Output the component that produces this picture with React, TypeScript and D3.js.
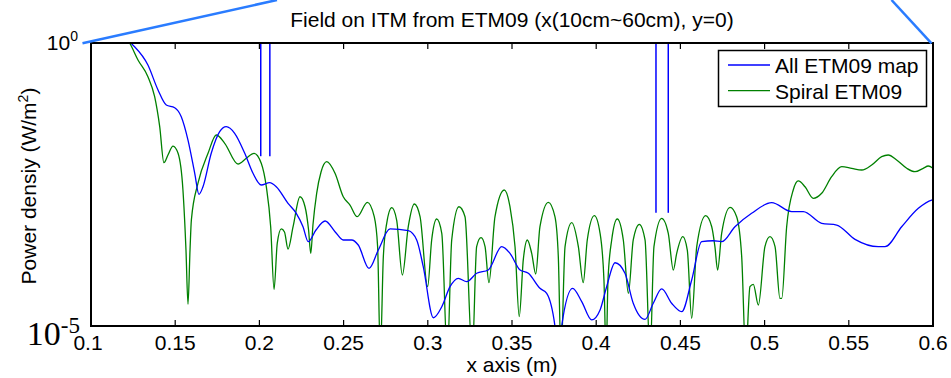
import React from "react";
import * as d3 from "d3";

const W = 951;
const H = 378;
const M = { left: 91, right: 18, top: 43, bottom: 52 };

const titleText = "Field on ITM from ETM09 (x(10cm~60cm), y=0)";
const xLabelText = "x axis (m)";
const seriesNames = ["All ETM09 map", "Spiral ETM09"];
const seriesColors = ["#0000ff", "#008000"];

const xTicks = [0.1, 0.15, 0.2, 0.25, 0.3, 0.35, 0.4, 0.45, 0.5, 0.55, 0.6];
const xTickLabels = ["0.1", "0.15", "0.2", "0.25", "0.3", "0.35", "0.4", "0.45", "0.5", "0.55", "0.6"];

// All ETM09 map (blue)
const blueX = [
  0.120, 0.1239, 0.1338, 0.1398, 0.1447, 0.1497, 0.1536, 0.1576, 0.1616, 0.1641, 0.1665,
  0.1714, 0.1764, 0.1803, 0.1853, 0.1913, 0.1962, 0.2011, 0.2061, 0.2100, 0.2170,
  0.2219, 0.2259, 0.2290, 0.2336, 0.2390, 0.2449, 0.2498, 0.2548, 0.2587, 0.2651,
  0.2706, 0.2776, 0.2884, 0.2934, 0.2973, 0.3033, 0.3083, 0.3132, 0.3181, 0.3231,
  0.3290, 0.3359, 0.3439, 0.3488, 0.3548, 0.3597, 0.3666, 0.3706, 0.3755, 0.3775,
  0.3795, 0.3860, 0.3914, 0.3973, 0.4023, 0.4062, 0.4112, 0.4171, 0.4220, 0.4290,
  0.4339, 0.4389, 0.4448, 0.4508, 0.4567, 0.4626, 0.4695, 0.4745, 0.4824, 0.4923,
  0.5042, 0.5161, 0.5230, 0.5339, 0.5428, 0.5537, 0.5675, 0.5715, 0.5814, 0.5913,
  0.5992, 0.6,
];
const blueY = [
  1.3, 0.99, 0.408, 0.148, 0.0803, 0.0719, 0.0499, 0.0193, 0.00499, 0.00212, 0.00289,
  0.01125, 0.0271, 0.0332, 0.0254, 0.01125, 0.00499, 0.0031, 0.0034, 0.00289, 0.00147,
  0.00098, 0.000568, 0.000309, 0.000497, 0.000716, 0.000464, 0.000331, 0.000331, 0.00027, 0.000104,
  0.00022, 0.000518, 0.000483, 0.000331, 0.000112, 1.40e-5, 2.19e-5, 4.95e-5, 6.96e-5, 6.07e-5,
  8.53e-5, 9.75e-5, 0.000252, 0.000192, 9.75e-5, 8.53e-5, 4.63e-5, 3.78e-5, 1.0e-5, 3e-6,
  1.0e-5, 4.63e-5, 2.69e-5, 1.28e-5, 1.92e-5, 4.95e-5, 0.000131, 8.53e-5, 2.52e-5, 1.31e-5,
  2.52e-5, 4.51e-5, 2.52e-5, 1.79e-5, 6.5e-5, 0.000309, 0.000321, 0.000309, 0.000568, 0.00098,
  0.00151, 0.00105, 0.00105, 0.000652, 0.000608, 0.00034, 0.000252, 0.000252, 0.000568, 0.0012,
  0.00168, 0.0017,
];

// Spiral ETM09 (green)
const greenX = [
  0.118, 0.1230, 0.1279, 0.1338, 0.1378, 0.1408, 0.1433, 0.1457, 0.1487, 0.1517, 0.1546,
  0.1564, 0.1576, 0.1588, 0.1596, 0.1635, 0.1695, 0.1744, 0.1794, 0.1873, 0.1922,
  0.1968, 0.2011, 0.2041, 0.2067, 0.2087, 0.2106, 0.2130, 0.2149, 0.2170, 0.2200,
  0.2241, 0.2271, 0.2292, 0.2305, 0.2318, 0.2340, 0.2366, 0.2400, 0.2449, 0.2498,
  0.2538, 0.2581, 0.2641, 0.2682, 0.2702, 0.2718, 0.2736, 0.2756, 0.2786, 0.2815,
  0.2849, 0.2884, 0.2920, 0.2954, 0.2999, 0.3023, 0.3053, 0.3083, 0.3116, 0.3142,
  0.3185, 0.3221, 0.3264, 0.3290, 0.3316, 0.3340, 0.3363, 0.3399, 0.3454, 0.3488,
  0.3518, 0.3543, 0.3567, 0.3591, 0.3617, 0.3641, 0.3666, 0.3716, 0.3755, 0.3775,
  0.3791, 0.3815, 0.3855, 0.3894, 0.3923, 0.3947, 0.3989, 0.4023, 0.4046, 0.4059,
  0.4070, 0.4092, 0.4125, 0.4161, 0.4191, 0.4220, 0.4256, 0.4290, 0.4320, 0.4343,
  0.4389, 0.4428, 0.4458, 0.4478, 0.4514, 0.4541, 0.4567, 0.4597, 0.4650, 0.4686,
  0.4705, 0.4721, 0.4745, 0.4795, 0.4834, 0.4864, 0.4888, 0.4913, 0.4933, 0.4963,
  0.5002, 0.5032, 0.5062, 0.5091, 0.5102, 0.5131, 0.5170, 0.5200, 0.5240, 0.5289,
  0.5339, 0.5398, 0.5458, 0.5517, 0.5577, 0.5636, 0.5695, 0.5734, 0.5784, 0.5844,
  0.5893, 0.5942, 0.5972, 0.6,
];
const greenY = [
  1.5, 0.99, 0.501, 0.254, 0.1125, 0.0332, 0.00767, 0.0105, 0.0151, 0.01125, 0.00253,
  0.00022, 2.42e-5, 0.00022, 0.000746, 0.00332, 0.01125, 0.0237, 0.0169, 0.00728, 0.00918,
  0.01125, 0.0075, 0.00289, 0.000568, 4.45e-5, 0.000289, 0.000518, 0.000458, 0.000229, 0.000568,
  0.00192, 0.00128, 0.000497, 0.000192, 0.000608, 0.00221, 0.00526, 0.008, 0.00499, 0.00192,
  0.00137, 0.000853, 0.00153, 0.000853, 0.000252, 3e-6, 0.000168, 0.000652, 0.00123, 0.000746,
  7.96e-5, 0.000568, 0.00143, 0.000853, 4.95e-5, 0.000331, 0.000777, 0.000434, 3e-6, 0.000331,
  0.00128, 0.000853, 3e-6, 0.000252, 0.000363, 0.000252, 5.82e-5, 0.000853, 0.00253, 0.00128,
  0.000252, 1.46e-5, 0.000147, 0.000331, 0.000192, 8.3e-5, 0.000568, 0.00153, 0.000853, 0.000168,
  3e-6, 0.000252, 0.000668, 0.000252, 5.82e-5, 0.000331, 0.000889, 0.000434, 6.5e-5, 3e-6,
  6.5e-5, 0.000331, 0.000777, 0.000331, 3.78e-5, 0.000331, 0.000626, 0.000331, 3e-6, 0.000252,
  0.0008, 0.000434, 9.75e-5, 0.000192, 0.000378, 0.00022, 1.37e-5, 0.000252, 0.000889, 0.000568,
  0.000252, 9.75e-5, 0.000434, 0.00125, 0.000853, 0.000168, 3e-6, 4.95e-5, 5.46e-5, 2.35e-5,
  0.000252, 0.000378, 0.000252, 3.08e-5, 3.08e-5, 0.000568, 0.00253, 0.00365, 0.00289, 0.0018,
  0.00221, 0.00434, 0.00652, 0.00611, 0.0057, 0.007, 0.0098, 0.0105, 0.00857, 0.00611,
  0.00532, 0.00611, 0.00671, 0.00611,
];

// Vertical blue marker segments (x position, lower end value)
const markerX = [0.2008, 0.2062, 0.4355, 0.4428];
const markerBottom = [1e-2, 1e-2, 1e-3, 1e-3];
const markerTop = 1;

export default function App() {
  const iw = W - M.left - M.right;
  const ih = H - M.top - M.bottom;
  const x = d3.scaleLinear().domain([0.1, 0.6]).range([M.left, M.left + iw]);
  const y = d3.scaleLog().domain([1e-5, 1]).range([M.top + ih, M.top]);

  const line = d3
    .line<[number, number]>()
    .x((d) => x(d[0]))
    .y((d) => y(d[1]))
    .curve(d3.curveMonotoneX);

  const blueData: [number, number][] = blueX.map((v, i) => [v, blueY[i]]);
  const greenData: [number, number][] = greenX.map((v, i) => [v, greenY[i]]);

  const sans = "'Liberation Sans', Arial, Helvetica, sans-serif";
  const x0 = M.left;
  const x1 = M.left + iw;
  const y0 = M.top;
  const y1 = M.top + ih;

  return (
    <div style={{ position: "fixed", left: 0, top: 0, width: W, height: H, background: "#fff" }}>
      <svg width={W} height={H} style={{ display: "block" }}>
        <defs>
          <clipPath id="plotClip">
            <rect x={x0} y={y0} width={iw} height={ih} />
          </clipPath>
        </defs>
        <rect x={0} y={0} width={W} height={H} fill="#fff" />

        <text x={(x0 + x1) / 2} y={27} textAnchor="middle" fontFamily={sans} fontSize={21} fill="#000">
          {titleText}
        </text>

        <g clipPath="url(#plotClip)">
          {markerX.map((mx, i) => (
            <line key={i} x1={x(mx)} x2={x(mx)} y1={y(markerTop)} y2={y(markerBottom[i])} stroke={seriesColors[0]} strokeWidth={1.5} />
          ))}
          <path d={line(greenData) || ""} fill="none" stroke={seriesColors[1]} strokeWidth={1.3} />
          <path d={line(blueData) || ""} fill="none" stroke={seriesColors[0]} strokeWidth={1.3} />
        </g>

        {/* axes box */}
        <rect x={x0} y={y0} width={iw} height={ih} fill="none" stroke="#000" strokeWidth={2} />
        {xTicks.map((t, i) => (
          <g key={i}>
            <line x1={x(t)} x2={x(t)} y1={y1} y2={y1 - 6} stroke="#000" strokeWidth={1.2} />
            <line x1={x(t)} x2={x(t)} y1={y0} y2={y0 + 6} stroke="#000" strokeWidth={1.2} />
            <text x={x(t) - (i === 0 ? 3 : 0)} y={y1 + 24} textAnchor="middle" fontFamily={sans} fontSize={21} fill="#000">
              {xTickLabels[i]}
            </text>
          </g>
        ))}

        {/* y tick labels */}
        <text x={78} y={50} textAnchor="end" fontFamily={sans} fontSize={21} fill="#000">
          10
          <tspan dy={-9} fontSize={14}>0</tspan>
        </text>
        <text x={80} y={345} textAnchor="end" fontFamily="'Liberation Serif', 'Times New Roman', serif" fontSize={34} fill="#000">
          10
          <tspan dy={-12} fontSize={23}>-5</tspan>
        </text>

        <text x={(x0 + x1) / 2} y={372} textAnchor="middle" fontFamily={sans} fontSize={21} fill="#000">
          {xLabelText}
        </text>
        <text transform={`translate(36, ${186}) rotate(-90)`} textAnchor="middle" fontFamily={sans} fontSize={21} fill="#000">
          Power densiy (W/m
          <tspan dy={-8} fontSize={14}>2</tspan>
          <tspan dy={8}>)</tspan>
        </text>

        {/* legend */}
        <rect x={718.5} y={50.5} width={208} height={56} fill="#fff" stroke="#000" strokeWidth={1.5} />
        {seriesNames.map((n, i) => (
          <g key={n}>
            <line x1={728} x2={770} y1={65 + i * 25.7} y2={65 + i * 25.7} stroke={seriesColors[i]} strokeWidth={1.3} />
            <text x={775} y={73 + i * 26} fontFamily={sans} fontSize={21} fill="#000">
              {n}
            </text>
          </g>
        ))}

        {/* zoom guide lines */}
        <line x1={82.5} y1={43.3} x2={277} y2={0} stroke="#2a7cff" strokeWidth={2.5} />
        <line x1={891.5} y1={0} x2={931.5} y2={43.3} stroke="#2a7cff" strokeWidth={2.5} />
      </svg>
    </div>
  );
}
